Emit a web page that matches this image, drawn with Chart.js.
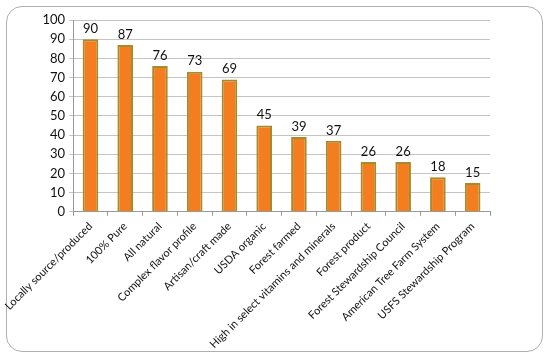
<!DOCTYPE html>
<html>
<head>
<meta charset="utf-8">
<script src="https://cdn.jsdelivr.net/npm/chart.js@4"></script>
<style>
  html, body { margin: 0; padding: 0; background: #fff; }
  #wrap { position: relative; width: 550px; height: 360px; }
  #frame {
    position: absolute; left: 6px; top: 6px; width: 537px; height: 346px;
    border: 1.5px solid #b0b0b0; border-radius: 16px; box-sizing: border-box;
  }
  canvas { position: absolute; left: 0; top: 0; }
</style>
</head>
<body>
<div id="wrap">
  <div id="frame"></div>
  <canvas id="chart" width="550" height="360"></canvas>
</div>
<script>
const labels = [
  'Locally source/produced',
  '100% Pure',
  'All natural',
  'Complex flavor profile',
  'Artisan/craft made',
  'USDA organic',
  'Forest farmed',
  'High in select vitamins and minerals',
  'Forest product',
  'Forest Stewardship Council',
  'American Tree Farm System',
  'USFS Stewardship Program'
];
const values = [90, 87, 76, 73, 69, 45, 39, 37, 26, 26, 18, 15];
const yMax = 100;
const yStep = 10;

const fontFamily = "Lato, 'Noto Sans', sans-serif";

// draws the value above each bar
const valueLabels = {
  id: 'valueLabels',
  afterDatasetsDraw(chart) {
    const ctx = chart.ctx;
    const meta = chart.getDatasetMeta(0);
    ctx.save();
    ctx.font = '13px ' + fontFamily;
    ctx.fillStyle = '#111';
    ctx.textAlign = 'center';
    ctx.textBaseline = 'bottom';
    meta.data.forEach(function(bar, i) {
      ctx.fillText(values[i], bar.x, bar.y - 4);
    });
    ctx.restore();
  }
};

new Chart(document.getElementById('chart'), {
  type: 'bar',
  data: {
    labels: labels,
    datasets: [{
      data: values,
      backgroundColor: '#f47d20',
      borderColor: '#a48c2c',
      borderWidth: 2,
      barPercentage: 0.45,
      categoryPercentage: 1
    }]
  },
  options: {
    responsive: false,
    animation: false,
    layout: { padding: { left: 38, top: 20, right: 60, bottom: 5 } },
    plugins: { legend: { display: false }, tooltip: { enabled: false } },
    scales: {
      x: {
        grid: { display: true, drawOnChartArea: false, tickLength: 4, color: '#999' },
        border: { color: '#999' },
        ticks: {
          minRotation: 45, maxRotation: 45, autoSkip: false,
          color: '#111', font: { family: fontFamily, size: 11 }, padding: 4
        }
      },
      y: {
        min: 0, max: yMax,
        grid: { color: '#c4c4c4', tickLength: 4 },
        border: { color: '#999' },
        ticks: {
          stepSize: yStep, autoSkip: false,
          color: '#111', font: { family: fontFamily, size: 13 }, padding: 4
        }
      }
    }
  },
  plugins: [valueLabels]
});
</script>
</body>
</html>
